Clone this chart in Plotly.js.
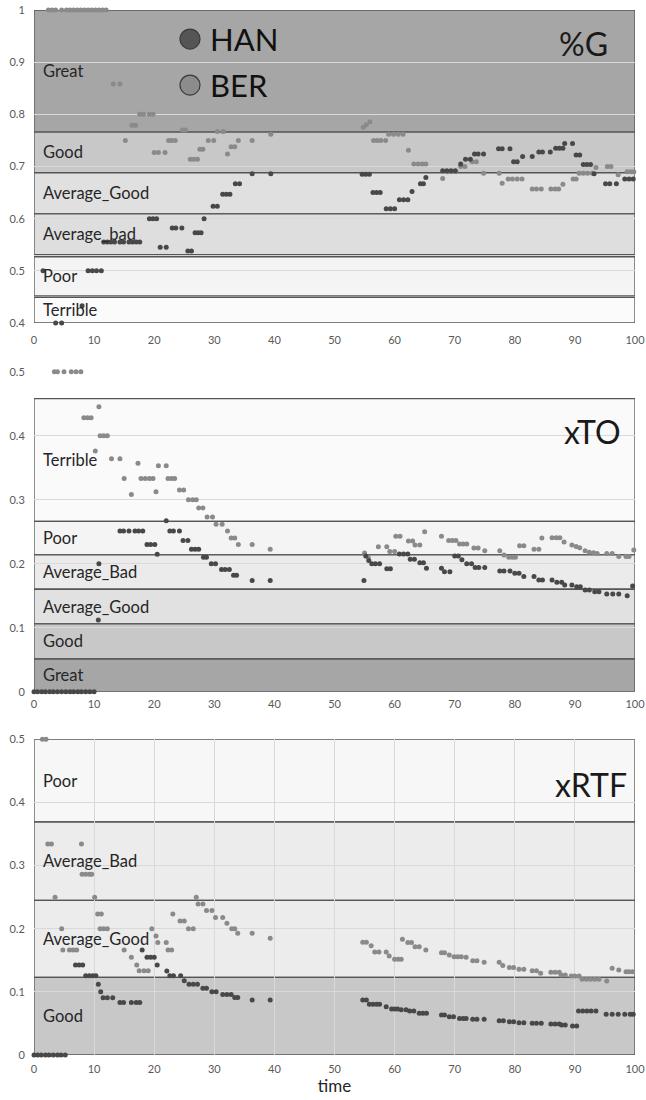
<!DOCTYPE html>
<html>
<head>
<meta charset="utf-8">
<script src="https://cdn.plot.ly/plotly-3.0.1.min.js"></script>
<style>html,body{margin:0;padding:0;background:#fff;}#chart{width:646px;height:1100px;}</style>
</head>
<body>
<div id="chart"></div>
<script>
// ---------- DATA ----------
const seriesNames = ['HAN', 'BER'];
const panelTitles = ['%G', 'xTO', 'xRTF'];
const xTicks = [0, 10, 20, 30, 40, 50, 60, 70, 80, 90, 100];

// Panel 1: %G
const gHAN_t = [1.5,3.6,4.6,8.0,9.0,9.7,10.4,11.2,11.6,12.2,12.8,13.4,14.3,14.9,15.8,16.4,17.0,17.6,19.2,19.8,20.4,21.0,22.0,23.0,23.6,24.6,25.6,26.2,26.8,27.3,27.8,28.3,29.8,30.5,31.4,32.0,32.6,33.5,34.2,36.3,39.4,
  54.6,55.2,55.8,56.4,57.0,57.6,58.6,59.3,60.0,60.8,61.5,62.2,62.9,64.3,64.8,65.2,68.0,68.7,69.4,70.1,71.0,71.8,72.6,73.3,73.9,74.8,77.3,77.9,79.2,79.8,80.4,81.3,82.9,84.0,84.6,85.9,86.8,87.4,88.0,88.3,89.6,90.2,90.8,91.4,92.0,92.6,93.2,95.1,95.8,96.9,98.3,99.0,99.7];
const gHAN_v = [0.5,0.4,0.4,0.433,0.5,0.5,0.5,0.5,0.555,0.555,0.555,0.555,0.555,0.555,0.555,0.555,0.555,0.555,0.6,0.6,0.6,0.545,0.545,0.582,0.582,0.582,0.538,0.538,0.573,0.573,0.573,0.6,0.624,0.624,0.647,0.647,0.647,0.667,0.667,0.686,0.686,
  0.685,0.685,0.685,0.65,0.65,0.65,0.619,0.619,0.619,0.636,0.636,0.636,0.652,0.667,0.667,0.679,0.692,0.692,0.692,0.692,0.705,0.714,0.714,0.724,0.724,0.724,0.734,0.734,0.734,0.709,0.709,0.719,0.719,0.728,0.728,0.728,0.735,0.735,0.735,0.744,0.744,0.722,0.722,0.704,0.704,0.704,0.686,0.667,0.667,0.667,0.676,0.676,0.676];
const gBER_t = [2.4,3.0,3.6,4.6,5.4,6.0,6.6,7.2,7.8,8.4,9.0,9.6,10.2,10.8,11.4,12.0,13.2,14.3,15.2,16.3,16.9,17.6,18.2,19.2,19.8,20.0,20.7,21.8,22.4,22.9,23.5,24.7,25.2,26.0,26.6,27.2,27.6,28.1,29.0,29.9,30.5,31.5,32.2,32.8,33.4,34.0,36.3,39.4,
  54.8,55.3,55.9,56.5,57.1,57.7,58.5,59.0,59.8,60.6,61.4,62.3,63.2,63.9,64.6,65.2,68.0,68.8,69.5,70.2,71.0,71.7,72.9,73.6,74.8,77.4,77.9,78.9,79.6,80.4,81.2,82.9,83.6,84.4,86.0,86.7,87.3,88.0,89.7,90.2,90.7,91.4,92.1,92.9,93.5,95.4,96.0,97.2,98.7,99.3,99.8];
const gBER_v = [1,1,1,1,1,1,1,1,1,1,1,1,1,1,1,1,0.858,0.858,0.75,0.779,0.779,0.8,0.8,0.8,0.8,0.727,0.727,0.727,0.75,0.75,0.75,0.77,0.77,0.714,0.714,0.714,0.733,0.733,0.75,0.75,0.767,0.767,0.724,0.738,0.738,0.75,0.75,0.762,
  0.775,0.78,0.786,0.75,0.75,0.75,0.75,0.762,0.762,0.762,0.762,0.731,0.705,0.705,0.705,0.705,0.677,0.69,0.69,0.69,0.7,0.7,0.709,0.709,0.687,0.687,0.668,0.676,0.676,0.676,0.676,0.657,0.657,0.657,0.657,0.657,0.657,0.666,0.676,0.676,0.687,0.687,0.687,0.687,0.698,0.7,0.7,0.684,0.69,0.69,0.69];

// Panel 2: xTO
const toHAN_t = [0.0,0.6,1.3,1.9,2.6,3.2,3.9,4.6,5.3,6.0,6.6,7.3,7.9,8.6,9.3,10.0,10.7,10.8,14.3,14.9,15.8,16.8,17.4,18.1,18.8,19.4,20.1,20.5,22.0,22.6,23.2,24.2,24.8,25.6,26.2,26.8,27.4,28.2,28.7,29.5,30.2,31.2,31.8,32.5,33.2,33.7,36.3,39.3,
  54.9,55.2,55.7,56.2,56.8,57.5,58.7,59.3,60.8,61.5,62.2,62.6,63.3,64.2,64.8,65.3,67.8,68.3,69.2,70.0,70.6,71.2,72.0,72.8,73.4,74.0,75.0,77.5,78.2,79.2,80.0,80.7,81.5,83.2,84.0,84.6,86.2,87.0,87.8,88.3,89.5,90.3,90.9,91.7,92.4,93.3,94.0,95.3,96.3,97.3,98.7,99.6];
const toHAN_v = [0,0,0,0,0,0,0,0,0,0,0,0,0,0,0,0,0.112,0.2,0.251,0.251,0.251,0.251,0.251,0.251,0.23,0.23,0.23,0.2146,0.267,0.251,0.251,0.251,0.236,0.236,0.2225,0.2225,0.2225,0.21,0.21,0.2,0.2,0.191,0.191,0.191,0.182,0.182,0.1735,0.1735,
  0.1735,0.212,0.205,0.2,0.2,0.2,0.192,0.192,0.215,0.215,0.215,0.207,0.207,0.2016,0.2016,0.193,0.193,0.1875,0.1875,0.212,0.212,0.206,0.2,0.2,0.194,0.194,0.194,0.1886,0.1886,0.1886,0.185,0.185,0.18,0.18,0.1745,0.1745,0.1745,0.171,0.171,0.1667,0.1667,0.164,0.164,0.159,0.159,0.156,0.156,0.1527,0.1527,0.1527,0.15,0.165];
const toBER_t = [3.4,3.9,5.0,6.2,7.0,7.8,8.3,8.9,9.5,10.2,10.8,11.0,11.6,12.2,12.9,14.3,15.0,16.2,17.3,17.8,18.5,19.2,19.8,20.3,20.7,22.0,22.3,22.9,23.4,24.2,24.9,25.7,26.4,27.0,27.4,28.1,28.8,29.7,30.3,31.3,32.2,32.8,33.4,34.0,36.3,39.3,
  55.0,55.6,57.3,58.7,59.2,60.0,60.2,60.9,62.3,63.0,63.4,64.2,65.0,67.8,69.0,69.6,70.2,70.8,71.4,72.0,73.2,73.9,75.0,77.5,78.2,79.0,79.6,80.1,80.8,81.5,83.2,84.0,84.5,86.2,86.9,87.5,88.2,89.5,90.2,90.8,91.7,92.4,93.1,93.7,95.3,96.2,97.3,98.5,99.0,99.8];
const toBER_v = [0.5,0.5,0.5,0.5,0.5,0.5,0.428,0.428,0.428,0.376,0.445,0.4,0.4,0.4,0.364,0.364,0.333,0.308,0.357,0.333,0.333,0.333,0.333,0.3125,0.353,0.353,0.333,0.333,0.333,0.315,0.315,0.3,0.3,0.3,0.287,0.287,0.273,0.273,0.2615,0.2615,0.251,0.24,0.24,0.23,0.23,0.2225,
  0.2167,0.21,0.2266,0.2266,0.219,0.219,0.243,0.243,0.2355,0.2355,0.229,0.229,0.25,0.243,0.236,0.236,0.236,0.2308,0.2308,0.2308,0.2245,0.2245,0.22,0.22,0.2136,0.21,0.21,0.21,0.228,0.228,0.2225,0.2225,0.24,0.2406,0.2406,0.2406,0.234,0.229,0.227,0.225,0.22,0.218,0.217,0.216,0.216,0.216,0.211,0.211,0.211,0.2214];

// Panel 3: xRTF
const rtfHAN_t = [0.0,0.6,1.2,1.9,2.5,3.2,3.9,4.5,5.2,6.9,7.5,8.1,8.6,9.2,9.8,10.3,10.7,11.1,11.5,12.2,13.1,14.3,14.9,16.2,17.0,17.6,18.0,18.8,19.4,20.0,20.5,22.1,22.6,23.2,24.4,25.0,25.8,26.5,27.2,28.1,28.7,29.6,30.3,31.4,32.1,32.8,33.4,33.9,36.3,39.3,
  54.7,55.3,55.8,56.4,57.0,57.5,58.6,59.5,60.0,60.5,61.1,61.9,62.5,63.2,64.1,64.7,65.3,67.8,68.3,69.1,69.8,70.8,71.4,71.9,73.0,73.7,74.9,77.4,78.1,79.1,79.8,80.7,81.5,82.9,83.6,84.4,86.0,86.7,87.4,87.8,88.4,89.6,90.3,90.6,91.3,92.0,92.7,93.5,95.2,96.2,97.2,98.3,99.2,99.7];
const rtfHAN_v = [0,0,0,0,0,0,0,0,0,0.1426,0.1426,0.1426,0.1257,0.1257,0.1257,0.1257,0.112,0.1,0.0908,0.0908,0.0908,0.083,0.083,0.083,0.083,0.083,0.1664,0.155,0.155,0.155,0.1426,0.133,0.1257,0.1257,0.1257,0.1178,0.112,0.112,0.112,0.1057,0.1057,0.1,0.1,0.096,0.096,0.096,0.091,0.091,0.0872,0.0872,
  0.0872,0.0872,0.0803,0.0803,0.0803,0.0803,0.0766,0.073,0.073,0.073,0.0715,0.0715,0.0697,0.0697,0.066,0.066,0.066,0.0634,0.0634,0.0607,0.0607,0.058,0.058,0.058,0.0566,0.0566,0.0566,0.0544,0.0544,0.0528,0.0528,0.0512,0.0512,0.0502,0.0502,0.0502,0.049,0.049,0.049,0.0475,0.0475,0.046,0.046,0.0697,0.0697,0.0697,0.0697,0.0697,0.0645,0.0645,0.0645,0.0645,0.0645,0.0645];
const rtfBER_t = [1.4,2.0,2.3,2.9,3.5,4.6,4.8,5.9,6.5,7.1,7.9,8.0,8.6,9.2,9.6,10.1,10.6,11.2,11.0,11.6,12.2,15.0,16.2,17.1,17.5,18.3,19.0,19.6,20.3,20.6,22.0,22.3,22.9,23.1,24.3,25.0,25.7,26.5,27.0,27.3,28.1,28.7,29.6,30.2,31.4,32.1,32.9,33.4,33.9,36.3,39.3,
  54.7,55.3,56.1,56.7,57.4,58.6,59.1,60.0,60.6,61.1,61.3,62.2,62.8,63.4,64.1,65.2,67.8,68.3,69.1,69.9,70.5,71.1,71.9,73.0,73.7,74.9,77.4,78.0,79.1,79.8,80.7,81.5,82.9,83.6,84.3,86.0,86.7,87.4,87.7,88.4,89.4,90.0,90.7,91.2,91.9,92.6,93.3,94.0,95.3,96.2,97.3,98.5,99.0,99.6];
const rtfBER_v = [0.5,0.5,0.334,0.334,0.25,0.2,0.1664,0.1664,0.1664,0.1664,0.334,0.2864,0.2864,0.2864,0.2864,0.25,0.2235,0.2235,0.2,0.2,0.2,0.1664,0.155,0.1426,0.1336,0.1336,0.1336,0.2,0.1886,0.178,0.178,0.1664,0.1664,0.2235,0.2124,0.2124,0.2,0.2,0.25,0.239,0.239,0.2287,0.2287,0.2176,0.2176,0.2087,0.2,0.2,0.193,0.193,0.185,
  0.1786,0.1786,0.173,0.163,0.163,0.163,0.157,0.1517,0.1517,0.1517,0.1833,0.178,0.178,0.1716,0.1716,0.1664,0.162,0.162,0.1585,0.1558,0.1558,0.1558,0.155,0.1494,0.1494,0.147,0.147,0.1416,0.1384,0.1384,0.136,0.136,0.1336,0.1336,0.1295,0.131,0.131,0.131,0.1268,0.1268,0.125,0.125,0.125,0.12,0.12,0.12,0.12,0.12,0.1173,0.1374,0.1347,0.132,0.132,0.132];

// Category bands (lower, upper bounds)
const gBandNames = ['Great', 'Good', 'Average_Good', 'Average_bad', 'Poor', 'Terrible'];
const gBandLo = [0.766, 0.688, 0.609, 0.531, 0.452, 0.4];
const gBandHi = [1.0, 0.766, 0.688, 0.609, 0.527, 0.449];
const toBandNames = ['Terrible', 'Poor', 'Average_Bad', 'Average_Good', 'Good', 'Great'];
const toBandLo = [0.266, 0.2136, 0.16, 0.1058, 0.051, 0];
const toBandHi = [0.458, 0.266, 0.2136, 0.16, 0.1058, 0.051];
const rtfBandNames = ['Poor', 'Average_Bad', 'Average_Good', 'Good'];
const rtfBandLo = [0.369, 0.245, 0.123, 0];
const rtfBandHi = [0.5, 0.369, 0.245, 0.123];

// ---------- STYLE ----------
const FONT = 'Lato, "Open Sans", sans-serif';
const gFill = ['#a6a6a6', '#c8c8c8', '#e0e0e0', '#dedede', '#f4f4f4', '#fbfbfb'];
const toFill = ['#fafafa', '#f4f4f4', '#ebebeb', '#e1e1e1', '#c8c8c8', '#a6a6a6'];
const rtfFill = ['#f7f7f7', '#ececec', '#ececec', '#c8c8c8'];
const seriesColor = {HAN: '#484848', BER: '#8a8a8a'};

function pts(t, v, name, xa, ya) {
  return {type: 'scatter', mode: 'markers', x: t, y: v, name: name, xaxis: xa, yaxis: ya,
    cliponaxis: false, hoverinfo: 'skip', showlegend: false,
    marker: {size: 5, color: seriesColor[name], line: {width: 0}}};
}
const data = [
  pts(gBER_t, gBER_v, 'BER', 'x', 'y'),
  pts(gHAN_t, gHAN_v, 'HAN', 'x', 'y'),
  pts(toBER_t, toBER_v, 'BER', 'x2', 'y2'),
  pts(toHAN_t, toHAN_v, 'HAN', 'x2', 'y2'),
  pts(rtfBER_t, rtfBER_v, 'BER', 'x3', 'y3'),
  pts(rtfHAN_t, rtfHAN_v, 'HAN', 'x3', 'y3')
];

const shapes = [];
const annotations = [];
function bands(names, lo, hi, fills, xr, yr) {
  names.forEach((n, i) => {
    shapes.push({type: 'rect', xref: xr, yref: yr, x0: xTicks[0], x1: xTicks[xTicks.length - 1], y0: lo[i], y1: hi[i],
      fillcolor: fills[i], line: {color: '#555555', width: 1.3}, layer: 'below'});
    annotations.push({xref: xr, yref: yr, x: 1.2, y: (lo[i] + hi[i]) / 2, text: n, showarrow: false,
      xanchor: 'left', yanchor: 'middle', font: {family: FONT, size: 16.5, color: '#262626'}});
  });
}
bands(gBandNames, gBandLo, gBandHi, gFill, 'x', 'y');
bands(toBandNames, toBandLo, toBandHi, toFill, 'x2', 'y2');
bands(rtfBandNames, rtfBandLo, rtfBandHi, rtfFill, 'x3', 'y3');

// panel titles
const titlePos = [[0.958, 0.9684], [0.980, 0.597], [0.990, 0.2593]];
panelTitles.forEach((t, i) => {
  annotations.push({xref: 'paper', yref: 'paper', x: titlePos[i][0], y: titlePos[i][1], text: t, showarrow: false,
    xanchor: 'right', yanchor: 'middle', font: {family: FONT, size: 32, color: '#1a1a1a'}});
});

// legend (manual, large symbols)
const legY = [0.9722, 0.9282];
seriesNames.forEach((n, i) => {
  shapes.push({type: 'circle', xref: 'paper', yref: 'paper', xsizemode: 'pixel', ysizemode: 'pixel',
    xanchor: 0.2596, yanchor: legY[i], x0: -10, x1: 10, y0: -10, y1: 10,
    fillcolor: n === 'HAN' ? '#555555' : '#8c8c8c', line: {color: '#3a3a3a', width: 1.2}});
  annotations.push({xref: 'paper', yref: 'paper', x: 0.2895, y: legY[i], text: n, showarrow: false,
    xanchor: 'left', yanchor: 'middle', font: {family: FONT, size: 31, color: '#111111'}});
});

const tickFont = {family: FONT, size: 11, color: '#595959'};
function xax(anchor, ticklen, grid) {
  return {anchor: anchor, domain: [0, 1], range: [0, 100], tickvals: xTicks, showgrid: grid, gridcolor: '#d9d9d9',
    zeroline: false, showline: false, ticks: 'outside', ticklen: ticklen, tickcolor: 'rgba(0,0,0,0)',
    tickfont: tickFont, fixedrange: true};
}
function yax(anchor, domain, range) {
  return {anchor: anchor, domain: domain, range: range, dtick: 0.1, showgrid: true, gridcolor: '#d9d9d9', gridwidth: 1,
    zeroline: false, showline: false, ticks: 'outside', ticklen: 6, tickcolor: 'rgba(0,0,0,0)',
    tickfont: tickFont, fixedrange: true};
}

const layout = {
  width: 646, height: 1100,
  margin: {l: 34, r: 11, t: 10, b: 45},
  paper_bgcolor: '#ffffff', plot_bgcolor: '#ffffff',
  showlegend: false, hovermode: false,
  font: {family: FONT},
  xaxis: xax('y', 7, false),
  yaxis: yax('x', [0.7005, 1], [0.4, 1]),
  xaxis2: xax('y2', 2, false),
  yaxis2: yax('x2', [0.3477, 0.6539], [0, 0.5]),
  xaxis3: Object.assign(xax('y3', 4, true), {title: {text: 'time', standoff: 5, font: {family: FONT, size: 17, color: '#262626'}}}),
  yaxis3: yax('x3', [0, 0.3021], [0, 0.5]),
  shapes: shapes,
  annotations: annotations
};

Plotly.newPlot('chart', data, layout, {staticPlot: true, displayModeBar: false});
</script>
</body>
</html>
